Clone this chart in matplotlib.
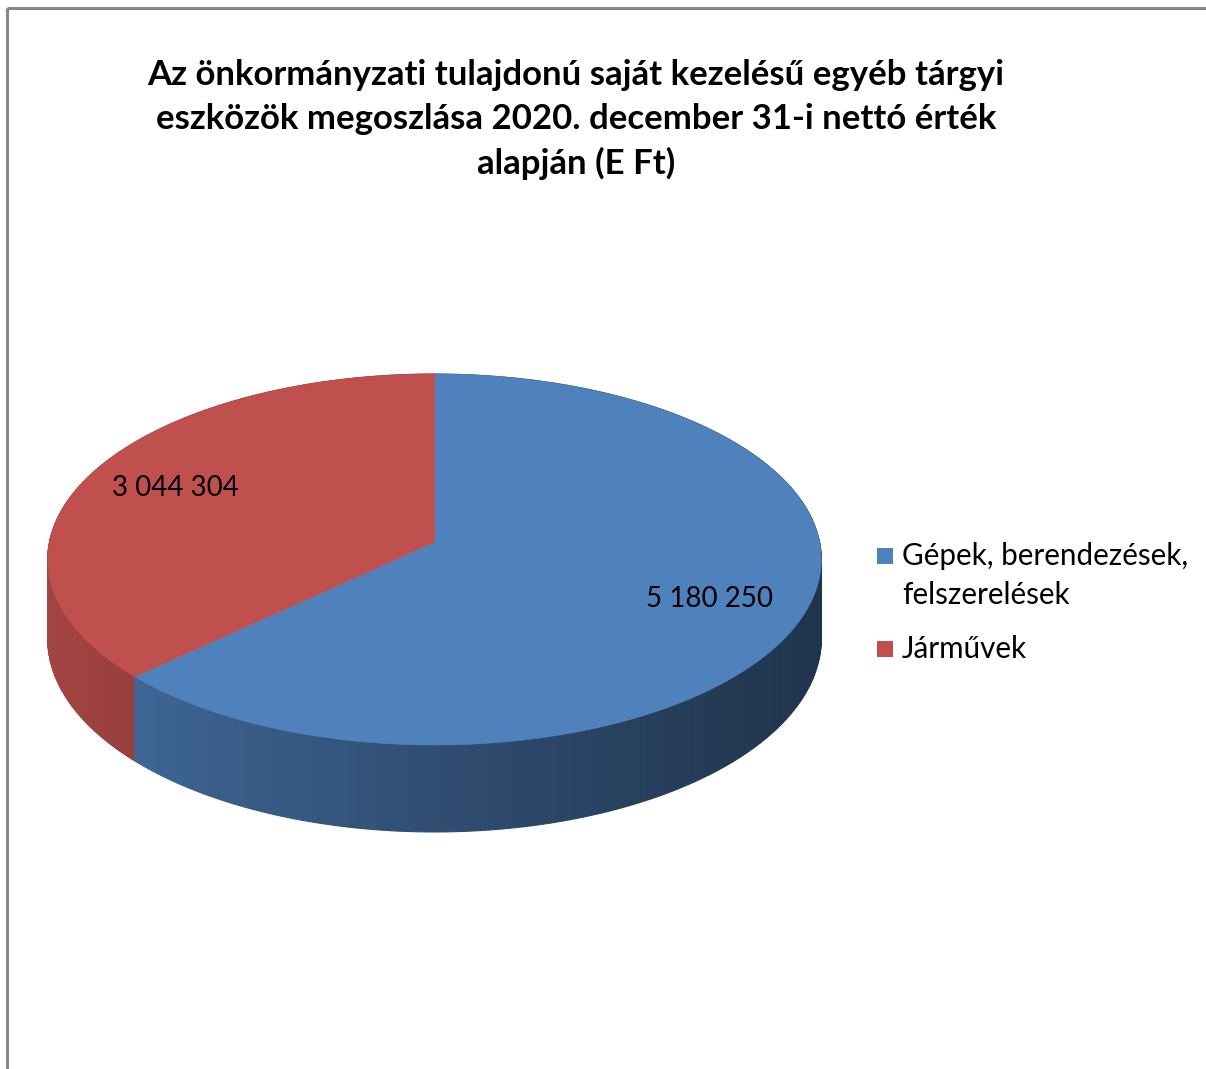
import numpy as np
import matplotlib.pyplot as plt
from matplotlib.patches import Polygon, Rectangle

plt.rcParams['font.family'] = ['Lato', 'DejaVu Sans']

title_lines = ['Az önkormányzati tulajdonú saját kezelésű egyéb tárgyi',
               'eszközök megoszlása 2020. december 31-i nettó érték',
               'alapján (E Ft)']
categories = ['Gépek, berendezések,\nfelszerelések', 'Járművek']
values = [5180250, 3044304]
labels = ['5 180 250', '3 044 304']
colors = ['#4f81bd', '#c0504d']

# pixel geometry of the 3-D pie (perspective)
CX, CY = 434.5, 542.0
A, B, K = 385.0, 183.8, 0.0943
DEPTH = 78.8


def proj(p, q, z=0.0):
    s = 1.0 / (1.0 + K * q)
    return CX + A * p * s, CY - B * q * s + DEPTH * z * s


def shade(hexcol, x):
    t = np.clip((x - 47) / (822 - 47), 0, 1)
    f = 0.86 - 0.46 * t ** 0.85
    rgb = np.array([int(hexcol[i:i + 2], 16) for i in (1, 3, 5)]) / 255.0
    return tuple(rgb * f)


fig = plt.figure(figsize=(12.06, 10.69), dpi=100)
ax = fig.add_axes([0, 0, 1, 1])
ax.set_xlim(0, 1206)
ax.set_ylim(1069, 0)
ax.axis('off')

# chart frame
ax.add_patch(Rectangle((7, 8), 1300, 1200, fill=False, ec='#868686', lw=2.2))

total = sum(values)
bounds = np.concatenate([[0], np.cumsum(values) / total]) * 2 * np.pi

# side wall strips, back to front
strips = []
for k in range(len(values)):
    th = np.linspace(bounds[k], bounds[k + 1], 240)
    for a0, a1 in zip(th[:-1], th[1:]):
        pts = [proj(np.sin(a0), np.cos(a0)), proj(np.sin(a1), np.cos(a1)),
               proj(np.sin(a1), np.cos(a1), 1), proj(np.sin(a0), np.cos(a0), 1)]
        am = (a0 + a1) / 2
        strips.append((np.cos(am), pts, colors[k]))
strips.sort(key=lambda s: -s[0])
for q, pts, col in strips:
    xm = np.mean([p[0] for p in pts])
    c = shade(col, xm)
    ax.add_patch(Polygon(pts, closed=True, fc=c, ec=c, lw=0.8))

# top faces
for k in range(len(values)):
    th = np.linspace(bounds[k], bounds[k + 1], 300)
    pts = [proj(0, 0)] + [proj(np.sin(a), np.cos(a)) for a in th]
    ax.add_patch(Polygon(pts, closed=True, fc=colors[k], ec=colors[k], lw=0.5))

# data labels
for k in range(len(values)):
    am = (bounds[k] + bounds[k + 1]) / 2
    r = 0.755
    x, y = proj(r * np.sin(am), r * np.cos(am))
    ax.text(x, y, labels[k], ha='center', va='center', fontsize=20, color='black')

# title
for i, line in enumerate(title_lines):
    ax.text(576, 75 + 44 * i, line, ha='center', va='center', fontsize=25,
            fontweight='bold', color='black')

# legend
leg_y = [556, 649]
for k in range(len(values)):
    ax.add_patch(Rectangle((877, leg_y[k] - 8), 16, 16, fc=colors[k], ec='none'))
leg_lines = categories[0].split('\n') + [categories[1]]
for y, line in zip([556, 595, 649], leg_lines):
    ax.text(902, y, line, ha='left', va='center', fontsize=21.3, color='black')

fig.savefig('out.png', dpi=100)
